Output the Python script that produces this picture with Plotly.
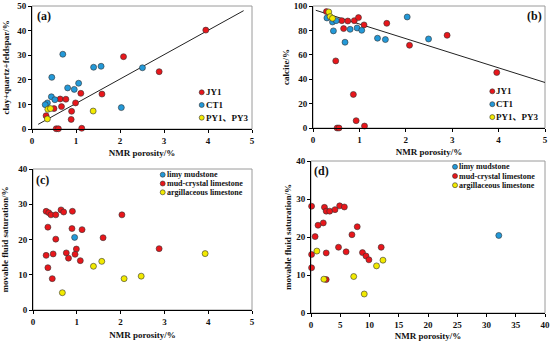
import plotly.graph_objects as go

W, H = 550, 341
FONT = "Liberation Serif, Noto Sans CJK SC, serif"

RED = "#e8161b"
BLUE = "#2399d8"
YEL = "#f2ea00"

# ---------------- data: panel (a) ----------------
a_jy1_x = [3.95, 2.08, 2.89, 1.59, 1.11, 0.99, 0.64, 0.77, 0.67, 0.50, 0.90, 0.32, 0.89, 0.55, 0.60, 1.13]
a_jy1_y = [40.2, 29.4, 23.3, 14.2, 14.5, 10.6, 12.2, 12.1, 9.1, 8.3, 7.2, 5.4, 3.9, 0.1, 0.1, 0.3]
a_ct1_x = [0.70, 0.45, 1.40, 1.57, 2.51, 1.06, 0.81, 0.96, 0.44, 0.52, 0.35, 0.30, 2.03]
a_ct1_y = [30.4, 21.0, 25.1, 25.5, 24.9, 18.6, 16.7, 16.1, 13.1, 11.9, 10.6, 9.9, 8.7]
a_py_x = [0.36, 0.42, 0.35, 1.39]
a_py_y = [8.0, 8.3, 4.1, 7.3]
a_trend_x = [0.14, 4.81]
a_trend_y = [1.9, 48.1]

# ---------------- data: panel (b) ----------------
b_jy1_x = [0.29, 0.62, 0.75, 0.89, 0.98, 0.66, 1.10, 1.59, 2.08, 2.89, 3.96, 0.49, 0.87, 0.93, 0.52, 0.56, 1.11]
b_jy1_y = [95.4, 88.0, 87.7, 88.0, 90.5, 81.5, 84.5, 85.8, 67.8, 76.0, 45.5, 55.0, 27.5, 6.0, 0.0, 0.0, 1.6]
b_ct1_x = [0.30, 0.42, 0.50, 0.44, 0.69, 0.80, 0.95, 1.05, 1.39, 1.56, 2.03, 2.49]
b_ct1_y = [90.2, 86.9, 88.0, 79.6, 70.3, 80.9, 82.0, 80.1, 73.6, 72.5, 91.0, 73.0]
b_py_x = [0.34, 0.37, 0.42]
b_py_y = [95.1, 91.3, 89.9]
b_trend_x = [0.06, 5.0]
b_trend_y = [96.5, 37.3]

# ---------------- data: panel (c) ----------------
c_limy_x = [0.95]
c_limy_y = [20.6]
c_mud_x = [0.30, 0.36, 0.41, 0.52, 0.64, 0.70, 0.90, 2.03, 0.34, 0.89, 1.12, 0.52, 1.60,
           0.99, 2.88, 0.76, 0.46, 0.96, 0.30, 0.81, 1.08, 0.34, 0.44]
c_mud_y = [28.0, 27.6, 27.0, 27.0, 28.4, 27.8, 28.0, 27.0, 23.5, 23.1, 22.8, 20.1, 20.5,
           17.3, 17.4, 16.2, 15.9, 15.8, 15.5, 14.7, 14.0, 12.0, 8.9]
c_arg_x = [0.67, 1.38, 1.57, 2.08, 2.47, 3.93]
c_arg_y = [4.9, 12.4, 13.8, 8.9, 9.6, 16.0]

# ---------------- data: panel (d) ----------------
d_limy_x = [32.1]
d_limy_y = [20.4]
d_mud_x = [0.1, 2.3, 2.6, 3.2, 4.1, 4.9, 5.7, 2.1, 1.2, 7.9, 0.7, 7.0, 4.7, 12.0, 6.0,
           2.6, 8.8, 9.4, 9.9, 0.1, 0.1, 2.6]
d_mud_y = [28.1, 27.8, 26.8, 26.8, 27.2, 28.2, 27.9, 23.7, 23.1, 22.7, 20.1, 20.6, 17.3,
           17.3, 16.1, 15.8, 15.9, 15.0, 14.0, 15.4, 11.9, 8.8]
d_arg_x = [1.0, 2.2, 7.3, 9.1, 11.2, 12.3]
d_arg_y = [16.3, 8.9, 9.6, 5.0, 12.4, 13.9]

well_names = ["JY1", "CT1", "PY1、PY3"]
well_colors = [RED, BLUE, YEL]
lith_names = ["limy mudstone", "mud-crystal limestone", "argillaceous limestone"]
lith_colors = [BLUE, RED, YEL]

x_title = "NMR porosity/%"
y_titles = ["clay+quartz+feldspar/%", "calcite/%", "movable fluid saturation/%", "movable fluid saturation/%"]
panel_labels = ["(a)", "(b)", "(c)", "(d)"]

# ---------------- layout helpers ----------------
def px_x(p):
    return p / W

def px_y(p):
    return 1 - p / H

# plot areas in pixels: (left, right, top, bottom)
boxes = [(32, 252, 6, 129), (313, 545, 6, 128), (33, 252, 169, 310), (311, 545, 161, 313)]
xranges = [[0, 5], [0, 5], [0, 5], [0, 40]]
yranges = [[0, 50], [0, 100], [0, 40], [0, 40]]
xdtick = [1, 1, 1, 5]
ydtick = [10, 20, 10, 10]
ystandoff = [6, 2, 10, 3]
xstandoff = [4, 4, 5, 5]

fig = go.Figure()

def mk(color):
    return dict(color=color, size=6, line=dict(color="#333333", width=0.6))

series = [
    (1, a_jy1_x, a_jy1_y, RED), (1, a_ct1_x, a_ct1_y, BLUE), (1, a_py_x, a_py_y, YEL),
    (2, b_jy1_x, b_jy1_y, RED), (2, b_ct1_x, b_ct1_y, BLUE), (2, b_py_x, b_py_y, YEL),
    (3, c_mud_x, c_mud_y, RED), (3, c_limy_x, c_limy_y, BLUE), (3, c_arg_x, c_arg_y, YEL),
    (4, d_mud_x, d_mud_y, RED), (4, d_limy_x, d_limy_y, BLUE), (4, d_arg_x, d_arg_y, YEL),
]

for k, (tx, ty) in {1: (a_trend_x, a_trend_y), 2: (b_trend_x, b_trend_y)}.items():
    fig.add_trace(go.Scatter(x=tx, y=ty, mode="lines", line=dict(color="#222222", width=1),
                             xaxis=f"x{k}", yaxis=f"y{k}", showlegend=False, hoverinfo="skip"))

for k, xs, ys, col in series:
    fig.add_trace(go.Scatter(x=xs, y=ys, mode="markers", marker=mk(col), cliponaxis=False,
                             xaxis=f"x{k}", yaxis=f"y{k}", showlegend=False))

tickfont = dict(family=FONT, size=9, color="#111111", weight="bold")
titlefont = dict(family=FONT, size=9, color="#111111", weight="bold")

layout = dict(width=W, height=H, margin=dict(l=0, r=0, t=0, b=0, autoexpand=False),
              paper_bgcolor="white", plot_bgcolor="white", showlegend=False,
              template="none")
shapes = []
annotations = []

for i in range(4):
    k = i + 1
    l, r, t, b = boxes[i]
    layout[f"xaxis{k}"] = dict(
        domain=[px_x(l), px_x(r)], range=xranges[i], dtick=xdtick[i], anchor=f"y{k}",
        automargin=False,
        showgrid=False, zeroline=False, showline=True, linecolor="black", linewidth=1,
        ticks="outside", ticklen=3, tickcolor="black", tickfont=tickfont,
        title=dict(text=x_title, font=titlefont, standoff=xstandoff[i]))
    layout[f"yaxis{k}"] = dict(
        domain=[px_y(b), px_y(t)], range=yranges[i], dtick=ydtick[i], anchor=f"x{k}",
        automargin=False,
        showgrid=False, zeroline=False, showline=True, linecolor="black", linewidth=1,
        ticks="outside", ticklen=3, tickcolor="black", tickfont=tickfont,
        title=dict(text=y_titles[i], font=titlefont, standoff=ystandoff[i]))
    xd = "x domain" if k == 1 else f"x{k} domain"
    yd = "y domain" if k == 1 else f"y{k} domain"
    shapes.append(dict(type="rect", xref=xd, yref=yd, x0=0, x1=1, y0=0, y1=1,
                       line=dict(color="#9a9a9a", width=1), layer="below"))

# panel labels
label_pos = [(35, 7, "left"), (544, 7, "right"), (34, 171, "left"), (312, 162, "left")]
for i, (px, py, anc) in enumerate(label_pos):
    annotations.append(dict(text=panel_labels[i], xref="paper", yref="paper",
                            x=px_x(px), y=px_y(py), xanchor=anc, yanchor="top", showarrow=False,
                            font=dict(family=FONT, size=12, color="#111111", weight="bold")))

# hand-placed keys (marker + text)
legends = [
    (well_names, well_colors, 201.7, 92.3, 12.7, 9),
    (well_names, well_colors, 492.3, 91.3, 12.9, 9),
    (lith_names, lith_colors, 162.7, 174.7, 8.8, 8),
    (lith_names, lith_colors, 455.0, 166.8, 9.2, 8),
]
for names, cols, mx, my, step, fs in legends:
    for j, (nm, col) in enumerate(zip(names, cols)):
        yy = my + j * step
        shapes.append(dict(type="circle", xref="paper", yref="paper", xsizemode="pixel",
                           ysizemode="pixel", xanchor=px_x(mx), yanchor=px_y(yy),
                           x0=-2.5, x1=2.5, y0=-2.5, y1=2.5, fillcolor=col,
                           line=dict(color="#333333", width=0.6)))
        annotations.append(dict(text=nm, xref="paper", yref="paper", x=px_x(mx + 3.0),
                                y=px_y(yy), xanchor="left", yanchor="middle", showarrow=False,
                                borderpad=0,
                                font=dict(family=FONT, size=fs, color="#111111", weight="bold")))

layout["shapes"] = shapes
layout["annotations"] = annotations
fig.update_layout(**layout)
fig.write_html("out.html", include_plotlyjs=True,
               config={"displayModeBar": False},
               post_script="document.body.style.margin='0';")
